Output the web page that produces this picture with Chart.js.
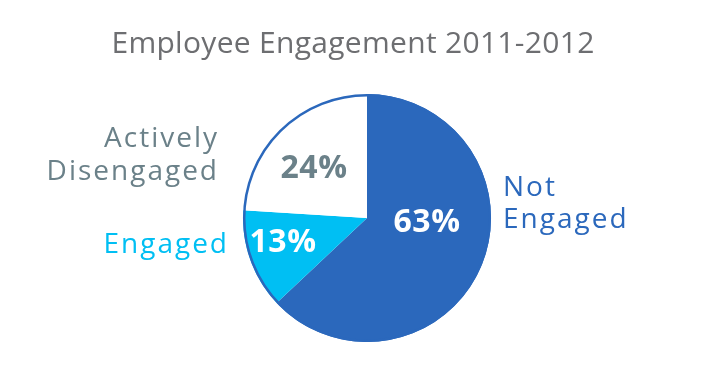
<!DOCTYPE html>
<html>
<head>
<meta charset="utf-8">
<script src="https://cdn.jsdelivr.net/npm/chart.js@4"></script>
<style>
    html, body { margin: 0; padding: 0; background: #fff; }
    #wrap { width: 716px; height: 369px; }
</style>
</head>
<body>
<div id="wrap"><canvas id="pieChart"></canvas></div>
<script>
const title = 'Employee Engagement 2011-2012';
const categories = ['Not Engaged', 'Engaged', 'Actively Disengaged'];
const values = [63, 13, 24];
const labelLines = [['Not', 'Engaged'], ['Engaged'], ['Actively', 'Disengaged']];

const sliceColors = ['#2b68bc', '#00bff3', '#ffffff'];
const nameColors = ['#2b68bc', '#00bff3', '#6b8189'];
const pctColors = ['#ffffff', '#ffffff', '#6b8189'];
const FONT = '"Open Sans", sans-serif';

// where each label goes, relative to the pie (dx/dy from centre, baselines)
const placement = [
    { pct: [60, 14], side: 'right', gap: 12, base: [196, 228] },
    { pct: [-84, 34], side: 'left', gap: 16, base: [253] },
    { pct: [-53, -40], side: 'left', gap: 26, base: [147, 180] }
];

const pieLabels = {
    id: 'pieLabels',
    afterDatasetsDraw(chart) {
        const ctx = chart.ctx;
        const arcs = chart.getDatasetMeta(0).data;
        const cx = arcs[0].x, cy = arcs[0].y, r = arcs[0].outerRadius;

        // blue outline round the whole pie
        ctx.save();
        ctx.beginPath();
        ctx.arc(cx, cy, r - 1.2, 0, Math.PI * 2);
        ctx.lineWidth = 2.5;
        ctx.strokeStyle = '#2b68bc';
        ctx.stroke();

        ctx.textBaseline = 'alphabetic';

        // title
        ctx.font = '30px ' + FONT;
        ctx.letterSpacing = '0.3px';
        ctx.fillStyle = '#6d6e71';
        ctx.textAlign = 'center';
        ctx.fillText(title, 353, 53);

        const ls = 2;
        values.forEach((v, i) => {
            const p = placement[i];
            ctx.letterSpacing = '0.5px';
            ctx.font = 'bold 32px ' + FONT;
            ctx.fillStyle = pctColors[i];
            ctx.textAlign = 'center';
            ctx.fillText(v + '%', cx + p.pct[0], cy + p.pct[1]);

            ctx.letterSpacing = ls + 'px';
            ctx.font = '28px ' + FONT;
            ctx.fillStyle = nameColors[i];
            let x;
            if (p.side === 'right') {
                ctx.textAlign = 'left';
                x = cx + r + p.gap;
            } else {
                ctx.textAlign = 'right';
                x = cx - r - p.gap + ls;
            }
            labelLines[i].forEach((line, j) => ctx.fillText(line, x, p.base[j]));
        });
        ctx.restore();
    }
};

new Chart(document.getElementById('pieChart'), {
    type: 'pie',
    data: {
        labels: categories,
        datasets: [{
            data: values,
            backgroundColor: sliceColors,
            borderWidth: 0
        }]
    },
    options: {
        responsive: true,
        maintainAspectRatio: false,
        animation: false,
        layout: {
            padding: { left: 243, right: 225, top: 94, bottom: 27 }
        },
        plugins: {
            legend: { display: false },
            tooltip: { enabled: false },
            title: { display: false }
        }
    },
    plugins: [pieLabels]
});
</script>
</body>
</html>
